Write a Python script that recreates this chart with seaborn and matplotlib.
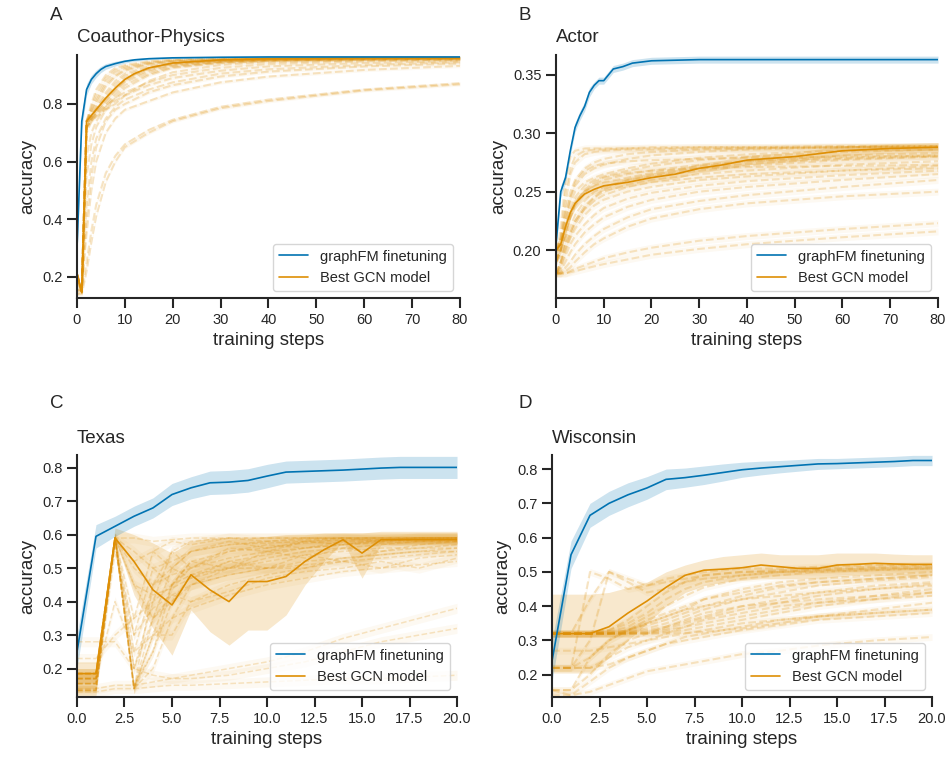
import pandas as pd
import matplotlib.pyplot as plt
import seaborn as sns

BLUE = '#0173b2'
ORANGE = '#de8f05'

# ---------------- A: Coauthor-Physics ----------------
a_steps = [0, 1, 2, 3, 4, 5, 6, 8, 10, 12, 15, 20, 30, 40, 60, 80]
a_fm = [0.30, 0.74, 0.85, 0.885, 0.905, 0.92, 0.93, 0.94, 0.948, 0.953, 0.957, 0.96, 0.962, 0.963, 0.963, 0.963]
a_fm_sd = [0.03, 0.03, 0.02, 0.015, 0.013, 0.011, 0.01, 0.008, 0.006, 0.005, 0.004, 0.003, 0.003, 0.003, 0.003, 0.003]
a_best = [0.21, 0.145, 0.74, 0.76, 0.78, 0.80, 0.82, 0.855, 0.885, 0.905, 0.925, 0.942, 0.953, 0.957, 0.96, 0.96]
a_best_sd = [0.01, 0.01, 0.01, 0.01, 0.01, 0.01, 0.01, 0.008, 0.006, 0.005, 0.004, 0.003, 0.003, 0.003, 0.003, 0.003]
a_other_steps = [0, 1, 2, 3, 4, 6, 8, 10, 15, 20, 30, 40, 60, 80]
a_other_sd = 0.006
a_others = [
    [0.21, 0.15, 0.74, 0.80, 0.85, 0.90, 0.925, 0.935, 0.948, 0.953, 0.957, 0.958, 0.96, 0.96],
    [0.21, 0.15, 0.74, 0.79, 0.835, 0.89, 0.918, 0.93, 0.945, 0.952, 0.956, 0.958, 0.96, 0.96],
    [0.21, 0.15, 0.74, 0.78, 0.82, 0.88, 0.91, 0.925, 0.942, 0.95, 0.955, 0.957, 0.959, 0.96],
    [0.21, 0.15, 0.74, 0.775, 0.81, 0.87, 0.90, 0.92, 0.94, 0.948, 0.954, 0.957, 0.959, 0.96],
    [0.21, 0.15, 0.74, 0.77, 0.80, 0.86, 0.895, 0.915, 0.937, 0.947, 0.953, 0.956, 0.958, 0.959],
    [0.21, 0.15, 0.73, 0.76, 0.79, 0.84, 0.88, 0.905, 0.93, 0.943, 0.951, 0.955, 0.958, 0.959],
    [0.21, 0.15, 0.73, 0.755, 0.785, 0.83, 0.87, 0.898, 0.926, 0.94, 0.95, 0.954, 0.957, 0.959],
    [0.21, 0.15, 0.73, 0.75, 0.78, 0.82, 0.86, 0.89, 0.922, 0.938, 0.949, 0.953, 0.957, 0.958],
    [0.20, 0.15, 0.72, 0.75, 0.775, 0.81, 0.85, 0.882, 0.917, 0.935, 0.947, 0.953, 0.956, 0.958],
    [0.20, 0.15, 0.72, 0.745, 0.77, 0.80, 0.84, 0.875, 0.912, 0.932, 0.946, 0.952, 0.956, 0.958],
    [0.20, 0.15, 0.72, 0.74, 0.765, 0.795, 0.83, 0.865, 0.905, 0.928, 0.944, 0.951, 0.955, 0.957],
    [0.20, 0.15, 0.72, 0.74, 0.76, 0.79, 0.82, 0.855, 0.90, 0.925, 0.942, 0.95, 0.955, 0.957],
    [0.19, 0.15, 0.70, 0.74, 0.755, 0.78, 0.80, 0.83, 0.88, 0.91, 0.935, 0.945, 0.952, 0.955],
    [0.18, 0.16, 0.62, 0.70, 0.74, 0.79, 0.82, 0.84, 0.875, 0.90, 0.925, 0.938, 0.948, 0.952],
    [0.17, 0.16, 0.55, 0.66, 0.72, 0.78, 0.81, 0.83, 0.865, 0.89, 0.915, 0.93, 0.942, 0.948],
    [0.16, 0.15, 0.45, 0.60, 0.68, 0.75, 0.79, 0.815, 0.85, 0.875, 0.905, 0.92, 0.935, 0.945],
    [0.15, 0.16, 0.40, 0.55, 0.65, 0.74, 0.78, 0.80, 0.84, 0.865, 0.895, 0.912, 0.93, 0.94],
    [0.15, 0.16, 0.35, 0.50, 0.60, 0.70, 0.75, 0.78, 0.81, 0.84, 0.875, 0.895, 0.918, 0.932],
    [0.14, 0.15, 0.25, 0.36, 0.45, 0.56, 0.62, 0.66, 0.71, 0.745, 0.79, 0.815, 0.85, 0.872],
    [0.14, 0.14, 0.22, 0.32, 0.41, 0.53, 0.60, 0.65, 0.70, 0.74, 0.785, 0.81, 0.847, 0.868],
]

# ---------------- B: Actor ----------------
b_steps = [0, 1, 2, 3, 4, 5, 6, 7, 8, 9, 10, 11, 12, 14, 16, 18, 20, 25, 30, 40, 60, 80]
b_fm = [0.205, 0.25, 0.262, 0.285, 0.305, 0.315, 0.323, 0.335, 0.341, 0.345, 0.345, 0.35, 0.355,
        0.357, 0.36, 0.361, 0.362, 0.3625, 0.363, 0.363, 0.363, 0.363]
b_fm_sd = [0.006, 0.005, 0.004, 0.004, 0.004, 0.004, 0.004, 0.004, 0.003, 0.003, 0.003, 0.003, 0.003,
           0.003, 0.003, 0.003, 0.003, 0.003, 0.003, 0.003, 0.003, 0.003]
b_best_steps = [0, 1, 2, 3, 4, 6, 8, 10, 15, 20, 25, 30, 35, 40, 50, 60, 70, 80]
b_best = [0.20, 0.205, 0.22, 0.232, 0.24, 0.248, 0.252, 0.255, 0.258, 0.262, 0.265, 0.27, 0.273,
          0.277, 0.28, 0.285, 0.287, 0.288]
b_best_sd = [0.006, 0.006, 0.006, 0.005, 0.005, 0.004, 0.004, 0.004, 0.004, 0.004, 0.004, 0.004, 0.004,
             0.004, 0.004, 0.004, 0.004, 0.004]
b_other_steps = [0, 1, 2, 3, 4, 6, 8, 10, 15, 20, 30, 40, 60, 80]
b_other_sd = 0.003
b_others = [
    [0.19, 0.22, 0.26, 0.28, 0.285, 0.287, 0.287, 0.287, 0.287, 0.288, 0.288, 0.288, 0.289, 0.289],
    [0.19, 0.21, 0.25, 0.27, 0.28, 0.285, 0.286, 0.286, 0.287, 0.287, 0.288, 0.288, 0.288, 0.289],
    [0.19, 0.20, 0.24, 0.265, 0.275, 0.282, 0.284, 0.285, 0.286, 0.286, 0.287, 0.287, 0.288, 0.288],
    [0.20, 0.21, 0.235, 0.25, 0.26, 0.27, 0.275, 0.278, 0.282, 0.284, 0.286, 0.287, 0.288, 0.288],
    [0.20, 0.21, 0.23, 0.245, 0.255, 0.265, 0.27, 0.273, 0.278, 0.281, 0.284, 0.286, 0.288, 0.289],
    [0.20, 0.205, 0.225, 0.24, 0.25, 0.258, 0.262, 0.265, 0.27, 0.274, 0.279, 0.282, 0.285, 0.286],
    [0.20, 0.205, 0.22, 0.235, 0.245, 0.255, 0.26, 0.263, 0.268, 0.272, 0.277, 0.28, 0.284, 0.286],
    [0.20, 0.20, 0.215, 0.23, 0.24, 0.25, 0.255, 0.258, 0.262, 0.266, 0.272, 0.276, 0.281, 0.283],
    [0.19, 0.20, 0.215, 0.228, 0.238, 0.25, 0.256, 0.26, 0.265, 0.268, 0.273, 0.276, 0.279, 0.281],
    [0.19, 0.20, 0.21, 0.22, 0.23, 0.242, 0.25, 0.254, 0.26, 0.263, 0.268, 0.272, 0.277, 0.28],
    [0.18, 0.185, 0.20, 0.212, 0.222, 0.236, 0.245, 0.252, 0.26, 0.264, 0.27, 0.274, 0.278, 0.28],
    [0.19, 0.195, 0.205, 0.215, 0.225, 0.238, 0.245, 0.25, 0.256, 0.26, 0.265, 0.268, 0.273, 0.276],
    [0.18, 0.19, 0.20, 0.21, 0.218, 0.23, 0.238, 0.243, 0.25, 0.254, 0.26, 0.263, 0.268, 0.272],
    [0.18, 0.19, 0.205, 0.215, 0.225, 0.235, 0.242, 0.247, 0.254, 0.258, 0.262, 0.265, 0.268, 0.27],
    [0.18, 0.185, 0.195, 0.205, 0.212, 0.222, 0.23, 0.236, 0.244, 0.249, 0.255, 0.259, 0.264, 0.268],
    [0.18, 0.182, 0.19, 0.198, 0.205, 0.215, 0.222, 0.228, 0.237, 0.243, 0.25, 0.254, 0.26, 0.265],
    [0.18, 0.18, 0.185, 0.19, 0.196, 0.205, 0.212, 0.218, 0.228, 0.235, 0.242, 0.247, 0.254, 0.26],
    [0.18, 0.18, 0.182, 0.185, 0.19, 0.198, 0.205, 0.21, 0.22, 0.227, 0.235, 0.24, 0.246, 0.25],
    [0.18, 0.18, 0.18, 0.181, 0.182, 0.184, 0.186, 0.188, 0.192, 0.196, 0.201, 0.205, 0.211, 0.216],
    [0.18, 0.18, 0.18, 0.182, 0.184, 0.187, 0.19, 0.193, 0.198, 0.202, 0.208, 0.212, 0.218, 0.223],
    [0.19, 0.20, 0.225, 0.245, 0.258, 0.268, 0.272, 0.274, 0.276, 0.277, 0.278, 0.279, 0.28, 0.281],
    [0.18, 0.19, 0.21, 0.228, 0.24, 0.252, 0.258, 0.262, 0.266, 0.268, 0.27, 0.271, 0.272, 0.273],
]

# ---------------- C: Texas ----------------
c_steps = list(range(21))
c_fm = [0.25, 0.595, 0.625, 0.655, 0.68, 0.72, 0.74, 0.755, 0.757, 0.762, 0.775, 0.787, 0.789,
        0.791, 0.793, 0.796, 0.799, 0.801, 0.801, 0.801, 0.801]
c_fm_sd = [0.05, 0.035, 0.03, 0.03, 0.03, 0.033, 0.033, 0.035, 0.035, 0.035, 0.035, 0.033, 0.033,
           0.033, 0.033, 0.033, 0.033, 0.033, 0.033, 0.033, 0.033]
c_best = [0.185, 0.185, 0.59, 0.52, 0.435, 0.39, 0.48, 0.435, 0.40, 0.46, 0.46, 0.475, 0.52,
          0.555, 0.585, 0.545, 0.585, 0.585, 0.585, 0.585, 0.585]
c_best_lo = [0.13, 0.13, 0.59, 0.42, 0.32, 0.24, 0.375, 0.31, 0.27, 0.315, 0.315, 0.36, 0.45,
             0.52, 0.58, 0.47, 0.57, 0.57, 0.57, 0.57, 0.57]
c_best_hi = [0.22, 0.22, 0.62, 0.60, 0.575, 0.545, 0.58, 0.59, 0.59, 0.59, 0.595, 0.60, 0.60,
             0.605, 0.605, 0.605, 0.61, 0.61, 0.61, 0.61, 0.61]
c_other_steps = [0, 1, 2, 3, 4, 5, 6, 8, 10, 12, 14, 16, 18, 20]
c_other_sd = 0.015
c_others = [
    [0.185, 0.185, 0.59, 0.14, 0.35, 0.50, 0.55, 0.57, 0.58, 0.585, 0.59, 0.59, 0.59, 0.59],
    [0.17, 0.17, 0.59, 0.14, 0.30, 0.45, 0.52, 0.55, 0.56, 0.575, 0.585, 0.585, 0.59, 0.59],
    [0.155, 0.155, 0.59, 0.15, 0.25, 0.40, 0.48, 0.52, 0.54, 0.56, 0.57, 0.58, 0.585, 0.585],
    [0.135, 0.135, 0.59, 0.14, 0.20, 0.35, 0.45, 0.50, 0.53, 0.55, 0.56, 0.57, 0.58, 0.58],
    [0.185, 0.185, 0.59, 0.55, 0.50, 0.52, 0.55, 0.57, 0.575, 0.58, 0.585, 0.585, 0.59, 0.59],
    [0.17, 0.17, 0.59, 0.50, 0.45, 0.48, 0.50, 0.53, 0.55, 0.56, 0.57, 0.575, 0.58, 0.58],
    [0.155, 0.155, 0.59, 0.45, 0.42, 0.44, 0.47, 0.50, 0.52, 0.54, 0.55, 0.56, 0.56, 0.57],
    [0.185, 0.185, 0.59, 0.59, 0.58, 0.585, 0.59, 0.59, 0.59, 0.59, 0.59, 0.59, 0.59, 0.59],
    [0.135, 0.135, 0.55, 0.30, 0.38, 0.42, 0.45, 0.48, 0.50, 0.52, 0.53, 0.54, 0.55, 0.55],
    [0.17, 0.17, 0.40, 0.25, 0.30, 0.35, 0.38, 0.42, 0.45, 0.47, 0.49, 0.50, 0.51, 0.52],
    [0.185, 0.185, 0.59, 0.30, 0.50, 0.45, 0.52, 0.50, 0.55, 0.53, 0.56, 0.55, 0.57, 0.58],
    [0.17, 0.17, 0.59, 0.25, 0.45, 0.50, 0.47, 0.52, 0.50, 0.54, 0.52, 0.55, 0.56, 0.56],
    [0.155, 0.155, 0.59, 0.35, 0.55, 0.50, 0.55, 0.58, 0.56, 0.58, 0.59, 0.58, 0.59, 0.59],
    [0.135, 0.135, 0.59, 0.20, 0.35, 0.42, 0.40, 0.45, 0.48, 0.50, 0.52, 0.50, 0.53, 0.54],
    [0.185, 0.185, 0.59, 0.14, 0.25, 0.45, 0.50, 0.55, 0.57, 0.56, 0.58, 0.58, 0.585, 0.59],
    [0.17, 0.17, 0.59, 0.45, 0.35, 0.40, 0.45, 0.48, 0.50, 0.50, 0.53, 0.54, 0.55, 0.56],
    [0.155, 0.155, 0.59, 0.52, 0.55, 0.58, 0.57, 0.59, 0.58, 0.59, 0.59, 0.59, 0.59, 0.59],
    [0.135, 0.135, 0.59, 0.14, 0.30, 0.30, 0.40, 0.43, 0.47, 0.49, 0.50, 0.52, 0.50, 0.53],
    [0.185, 0.185, 0.59, 0.14, 0.45, 0.55, 0.58, 0.59, 0.59, 0.59, 0.59, 0.59, 0.59, 0.59],
    [0.17, 0.17, 0.59, 0.20, 0.40, 0.55, 0.50, 0.56, 0.55, 0.58, 0.57, 0.585, 0.58, 0.585],
    [0.23, 0.23, 0.30, 0.35, 0.40, 0.45, 0.48, 0.50, 0.50, 0.51, 0.52, 0.53, 0.54, 0.55],
    [0.28, 0.28, 0.28, 0.20, 0.18, 0.17, 0.17, 0.18, 0.20, 0.22, 0.25, 0.28, 0.30, 0.32],
    [0.14, 0.14, 0.15, 0.15, 0.16, 0.17, 0.18, 0.20, 0.22, 0.25, 0.29, 0.32, 0.35, 0.38],
    [0.13, 0.13, 0.14, 0.14, 0.145, 0.15, 0.15, 0.155, 0.16, 0.165, 0.17, 0.17, 0.175, 0.18],
]

# ---------------- D: Wisconsin ----------------
d_steps = list(range(21))
d_fm = [0.24, 0.55, 0.665, 0.70, 0.725, 0.745, 0.77, 0.775, 0.782, 0.79, 0.798, 0.803, 0.807,
        0.811, 0.815, 0.816, 0.818, 0.82, 0.822, 0.825, 0.825]
d_fm_sd = [0.06, 0.04, 0.035, 0.035, 0.035, 0.033, 0.03, 0.028, 0.027, 0.025, 0.022, 0.02, 0.018,
           0.017, 0.016, 0.015, 0.015, 0.015, 0.015, 0.015, 0.015]
d_best = [0.32, 0.32, 0.32, 0.34, 0.38, 0.415, 0.455, 0.49, 0.505, 0.508, 0.512, 0.52, 0.515,
          0.51, 0.51, 0.52, 0.522, 0.525, 0.523, 0.522, 0.522]
d_best_lo = [0.205, 0.205, 0.205, 0.25, 0.30, 0.35, 0.40, 0.44, 0.46, 0.47, 0.475, 0.48, 0.48,
             0.48, 0.48, 0.485, 0.49, 0.49, 0.49, 0.49, 0.49]
d_best_hi = [0.435, 0.435, 0.435, 0.44, 0.455, 0.47, 0.50, 0.52, 0.535, 0.545, 0.55, 0.555, 0.55,
             0.55, 0.55, 0.555, 0.555, 0.555, 0.552, 0.55, 0.55]
d_other_steps = [0, 1, 2, 3, 4, 5, 6, 7, 8, 10, 12, 14, 17, 20]
d_other_sd = 0.01
d_others = [
    [0.32, 0.32, 0.32, 0.33, 0.36, 0.40, 0.44, 0.47, 0.49, 0.50, 0.505, 0.51, 0.515, 0.52],
    [0.32, 0.32, 0.32, 0.33, 0.35, 0.38, 0.42, 0.45, 0.47, 0.49, 0.50, 0.505, 0.51, 0.515],
    [0.32, 0.32, 0.32, 0.325, 0.34, 0.37, 0.40, 0.43, 0.455, 0.48, 0.49, 0.50, 0.505, 0.51],
    [0.32, 0.32, 0.32, 0.322, 0.33, 0.345, 0.36, 0.38, 0.40, 0.43, 0.455, 0.47, 0.48, 0.49],
    [0.32, 0.32, 0.32, 0.32, 0.33, 0.35, 0.37, 0.39, 0.42, 0.45, 0.47, 0.48, 0.49, 0.50],
    [0.32, 0.32, 0.32, 0.32, 0.325, 0.335, 0.35, 0.37, 0.39, 0.42, 0.44, 0.46, 0.475, 0.485],
    [0.32, 0.32, 0.32, 0.32, 0.322, 0.33, 0.34, 0.355, 0.37, 0.40, 0.42, 0.44, 0.46, 0.47],
    [0.32, 0.32, 0.32, 0.32, 0.32, 0.325, 0.335, 0.35, 0.365, 0.39, 0.41, 0.43, 0.45, 0.465],
    [0.32, 0.32, 0.32, 0.32, 0.32, 0.322, 0.33, 0.34, 0.35, 0.37, 0.39, 0.41, 0.43, 0.45],
    [0.32, 0.32, 0.32, 0.32, 0.32, 0.32, 0.325, 0.33, 0.34, 0.36, 0.38, 0.40, 0.42, 0.44],
    [0.32, 0.32, 0.32, 0.32, 0.32, 0.32, 0.32, 0.322, 0.325, 0.335, 0.35, 0.37, 0.39, 0.41],
    [0.22, 0.22, 0.50, 0.48, 0.45, 0.46, 0.48, 0.49, 0.50, 0.51, 0.51, 0.515, 0.52, 0.52],
    [0.22, 0.22, 0.30, 0.50, 0.47, 0.44, 0.45, 0.47, 0.48, 0.49, 0.50, 0.50, 0.505, 0.51],
    [0.32, 0.32, 0.42, 0.50, 0.48, 0.46, 0.47, 0.48, 0.49, 0.50, 0.50, 0.505, 0.51, 0.51],
    [0.22, 0.22, 0.25, 0.30, 0.33, 0.36, 0.38, 0.40, 0.42, 0.44, 0.46, 0.47, 0.48, 0.49],
    [0.22, 0.22, 0.22, 0.25, 0.28, 0.30, 0.32, 0.34, 0.36, 0.38, 0.40, 0.41, 0.42, 0.43],
    [0.22, 0.22, 0.22, 0.23, 0.25, 0.27, 0.29, 0.31, 0.32, 0.34, 0.36, 0.37, 0.38, 0.39],
    [0.27, 0.27, 0.27, 0.28, 0.29, 0.30, 0.31, 0.32, 0.33, 0.35, 0.36, 0.37, 0.38, 0.39],
    [0.155, 0.155, 0.20, 0.26, 0.30, 0.32, 0.34, 0.36, 0.38, 0.40, 0.41, 0.42, 0.43, 0.44],
    [0.155, 0.155, 0.25, 0.30, 0.33, 0.35, 0.37, 0.39, 0.40, 0.42, 0.43, 0.44, 0.45, 0.46],
    [0.155, 0.14, 0.18, 0.22, 0.25, 0.27, 0.29, 0.30, 0.31, 0.33, 0.345, 0.36, 0.37, 0.38],
    [0.14, 0.14, 0.15, 0.17, 0.19, 0.21, 0.22, 0.23, 0.24, 0.26, 0.27, 0.285, 0.30, 0.31],
]

sns.set_theme(style="ticks", context="notebook")
plt.rcParams['font.family'] = ['Liberation Sans', 'DejaVu Sans']
plt.rcParams['axes.linewidth'] = 1.5
plt.rcParams['xtick.major.width'] = 1.5
plt.rcParams['ytick.major.width'] = 1.5

fig = plt.figure(figsize=(9.47, 7.59), dpi=100)


def draw_others(ax, steps, lines, sd, lw):
    rows = [(i, x, y) for i, ys in enumerate(lines) for x, y in zip(steps, ys)]
    df = pd.DataFrame(rows, columns=['model', 'step', 'acc'])
    for ys in lines:
        ax.fill_between(steps, [y - sd for y in ys], [y + sd for y in ys],
                        color=ORANGE, alpha=0.05, lw=0)
    sns.lineplot(data=df, x='step', y='acc', units='model', estimator=None, color=ORANGE,
                 alpha=0.22, lw=lw, ls='--', ax=ax, legend=False)


def panel(rect, title, fm_steps, fm, fm_lo, fm_hi, best_steps, best, best_lo, best_hi,
          other_steps, others, other_sd, xlim, ylim, xticks, yticks, xfmt, yfmt, other_lw):
    ax = fig.add_axes(rect)
    draw_others(ax, other_steps, others, other_sd, other_lw)
    ax.fill_between(best_steps, best_lo, best_hi, color=ORANGE, alpha=0.2, lw=0)
    sns.lineplot(x=best_steps, y=best, color=ORANGE, lw=1.2, ax=ax, label='Best GCN model')
    ax.fill_between(fm_steps, fm_lo, fm_hi, color=BLUE, alpha=0.2, lw=0)
    sns.lineplot(x=fm_steps, y=fm, color=BLUE, lw=1.2, ax=ax, label='graphFM finetuning')
    ax.set_xlim(*xlim)
    ax.set_ylim(*ylim)
    ax.set_xticks(xticks)
    ax.set_xticklabels([xfmt.format(t) for t in xticks])
    ax.set_yticks(yticks)
    ax.set_yticklabels([yfmt.format(t) for t in yticks])
    ax.tick_params(labelsize=10.5, length=7)
    ax.set_xlabel('training steps', fontsize=13.5)
    ax.set_ylabel('accuracy', fontsize=13.5)
    ax.set_title(title, loc='left', fontsize=13.5, pad=9)
    handles, labels = ax.get_legend_handles_labels()
    ax.legend(handles[::-1], labels[::-1], loc='lower right', fontsize=10.5)
    sns.despine(ax=ax)
    return ax


def band(mean, sd):
    return [m - s for m, s in zip(mean, sd)], [m + s for m, s in zip(mean, sd)]


a_lo, a_hi = band(a_fm, a_fm_sd)
ab_lo, ab_hi = band(a_best, a_best_sd)
panel([0.0813, 0.6074, 0.4044, 0.3202], 'Coauthor-Physics',
      a_steps, a_fm, a_lo, a_hi, a_steps, a_best, ab_lo, ab_hi, a_other_steps, a_others, a_other_sd,
      (0, 80), (0.127, 0.97), list(range(0, 81, 10)), [0.2, 0.4, 0.6, 0.8], '{:d}', '{:.1f}', 1.5)

b_lo, b_hi = band(b_fm, b_fm_sd)
bb_lo, bb_hi = band(b_best, b_best_sd)
panel([0.5871, 0.6074, 0.4034, 0.3202], 'Actor',
      b_steps, b_fm, b_lo, b_hi, b_best_steps, b_best, bb_lo, bb_hi, b_other_steps, b_others, b_other_sd,
      (0, 80), (0.159, 0.367), list(range(0, 81, 10)), [0.20, 0.25, 0.30, 0.35], '{:d}', '{:.2f}', 1.5)

c_lo, c_hi = band(c_fm, c_fm_sd)
panel([0.0813, 0.0817, 0.4013, 0.3188], 'Texas',
      c_steps, c_fm, c_lo, c_hi, c_steps, c_best, c_best_lo, c_best_hi, c_other_steps, c_others, c_other_sd,
      (0, 20), (0.115, 0.838), [0, 2.5, 5, 7.5, 10, 12.5, 15, 17.5, 20],
      [0.2, 0.3, 0.4, 0.5, 0.6, 0.7, 0.8], '{:.1f}', '{:.1f}', 1.1)

d_lo, d_hi = band(d_fm, d_fm_sd)
panel([0.5829, 0.0817, 0.4013, 0.3188], 'Wisconsin',
      d_steps, d_fm, d_lo, d_hi, d_steps, d_best, d_best_lo, d_best_hi, d_other_steps, d_others, d_other_sd,
      (0, 20), (0.135, 0.841), [0, 2.5, 5, 7.5, 10, 12.5, 15, 17.5, 20],
      [0.2, 0.3, 0.4, 0.5, 0.6, 0.7, 0.8], '{:.1f}', '{:.1f}', 1.5)

for letter, x, y in [('A', 0.053, 0.973), ('B', 0.548, 0.973), ('C', 0.053, 0.462), ('D', 0.548, 0.462)]:
    fig.text(x, y, letter, fontsize=13.5, va='baseline')

fig.savefig('out.png', dpi=100)
